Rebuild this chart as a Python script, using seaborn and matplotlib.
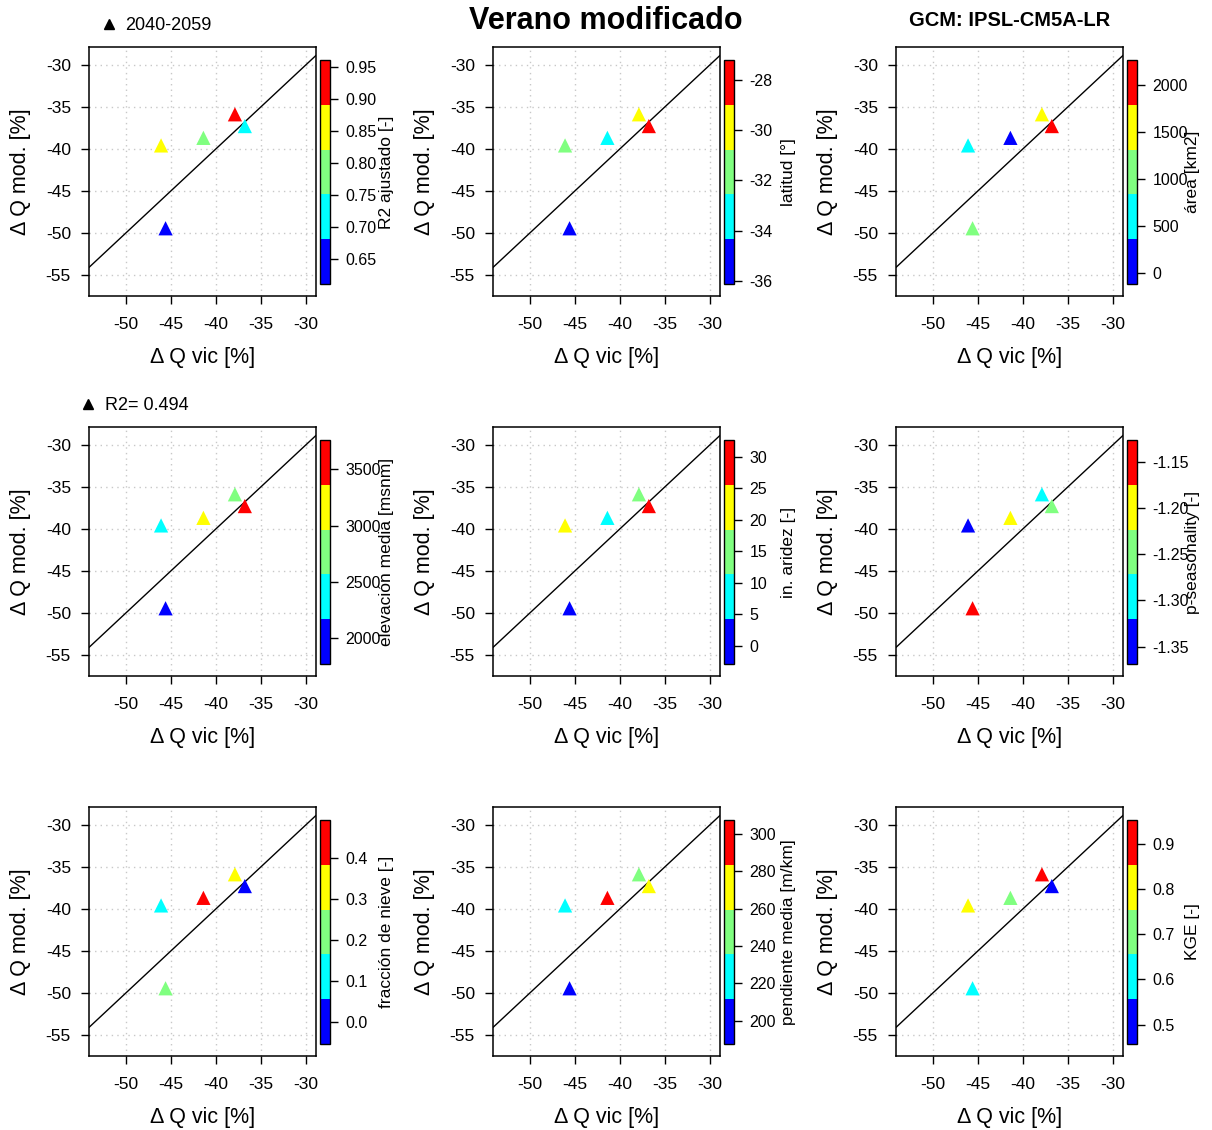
import numpy as np
import pandas as pd
import matplotlib
matplotlib.use("Agg")
import matplotlib.pyplot as plt
from matplotlib.colors import ListedColormap, Normalize
from matplotlib.lines import Line2D
import seaborn as sns

# cambio de caudal en verano (5 cuencas), igual en los 9 paneles
dq_vic = [-46.1, -45.6, -41.4, -37.9, -36.8]
dq_mod = [-39.6, -49.45, -38.7, -35.9, -37.3]

# variables para el color de cada cuenca
r2_ajustado = [0.86, 0.61, 0.79, 0.961, 0.72]
latitud = [-31.5, -36.1, -33.4, -29.8, -27.2]
area = [600, 1050, 150, 1550, 2266]
elevacion = [2400, 1800, 3150, 2750, 3700]
aridez = [22, 1, 8, 15, 31]
p_season = [-1.35, -1.14, -1.20, -1.29, -1.25]
nieve = [0.10, 0.22, 0.45, 0.33, 0.0]
pendiente = [225, 195, 300, 245, 270]
kge = [0.80, 0.60, 0.70, 0.92, 0.50]

variables = [r2_ajustado, latitud, area, elevacion, aridez,
             p_season, nieve, pendiente, kge]
etiquetas = ["R2 ajustado [-]", "latitud [°]", "área [km2]",
             "elevación media [msnm]", "in. aridez [-]", "p-seasonality [-]",
             "fracción de nieve [-]", "pendiente media [m/km]", "KGE [-]"]
# limites de la barra de colores
cb_lim = [(0.610, 0.9615), (-36.13, -27.2), (-120, 2266), (1769, 3760),
          (-2.92, 32.66), (-1.3687, -1.1265), (-0.0545, 0.493),
          (187.5, 307.5), (0.457, 0.953)]
cb_ticks = [[0.65, 0.70, 0.75, 0.80, 0.85, 0.90, 0.95],
            [-36, -34, -32, -30, -28],
            [0, 500, 1000, 1500, 2000],
            [2000, 2500, 3000, 3500],
            [0, 5, 10, 15, 20, 25, 30],
            [-1.35, -1.30, -1.25, -1.20, -1.15],
            [0.0, 0.1, 0.2, 0.3, 0.4],
            [200, 220, 240, 260, 280, 300],
            [0.5, 0.6, 0.7, 0.8, 0.9]]
cb_fmt = ["{:.2f}", "{:.0f}", "{:.0f}", "{:.0f}", "{:.0f}",
          "{:.2f}", "{:.1f}", "{:.0f}", "{:.1f}"]

colores = ListedColormap(["#0000FF", "#00FFFF", "#80FF80", "#FFFF00", "#FF0000"])

sns.set_style("white")
plt.rcParams["font.family"] = ["Liberation Sans", "DejaVu Sans"]
plt.rcParams["axes.unicode_minus"] = False
plt.rcParams["text.color"] = "black"
plt.rcParams["axes.labelcolor"] = "black"
plt.rcParams["xtick.color"] = "black"
plt.rcParams["ytick.color"] = "black"

W, H = 1212, 1130
fig = plt.figure(figsize=(W / 100, H / 100), dpi=100)


def px_axes(x, y, w, h):
    return fig.add_axes([x / W, 1 - (y + h) / H, w / W, h / H])


col_x = [89, 493, 896]
row_y = [47, 427, 807]
lab_x = [386, 788, 1192]

for i in range(9):
    r, c = divmod(i, 3)
    ax = px_axes(col_x[c], row_y[r], 227, 249)
    df = pd.DataFrame({"vic": dq_vic, "mod": dq_mod, "val": variables[i]})
    lo, hi = cb_lim[i]
    norm = Normalize(lo, hi)

    ax.axline((-50, -50), (-30, -30), color="black", lw=1, zorder=2)
    sns.scatterplot(data=df, x="vic", y="mod", hue="val", palette=colores,
                    hue_norm=norm, marker="^", s=105, linewidth=0,
                    legend=False, ax=ax, zorder=3)

    ax.set_xlim(-54.1, -28.9)
    ax.set_ylim(-57.5, -27.9)
    ax.set_xticks([-50, -45, -40, -35, -30])
    ax.set_yticks([-55, -50, -45, -40, -35, -30])
    ax.grid(True, linestyle=(0, (1, 3)), color="#C8C8C8", lw=1)
    ax.tick_params(axis="both", which="major", direction="out", length=6,
                   width=1, labelsize=12.5, color="black", labelcolor="black",
                   left=True, bottom=True)
    ax.tick_params(axis="y", pad=7)
    ax.tick_params(axis="x", pad=9)
    for sp in ax.spines.values():
        sp.set_color("black")
        sp.set_linewidth(1.1)
    ax.set_xlabel("Δ Q vic [%]", fontsize=15.5, color="black")
    ax.set_ylabel("Δ Q mod. [%]", fontsize=15.5, color="black")
    ax.xaxis.set_label_coords(0.5, -0.205)
    ax.yaxis.set_label_coords(-0.255, 0.5)

    # barra de colores
    cax = px_axes(col_x[c] + 231, row_y[r] + 13, 10, 224)
    sm = plt.cm.ScalarMappable(norm=norm, cmap=colores)
    cb = fig.colorbar(sm, cax=cax)
    cb.set_ticks(cb_ticks[i])
    cb.set_ticklabels([cb_fmt[i].format(t) for t in cb_ticks[i]])
    cb.ax.tick_params(length=6, width=1, labelsize=11.5, pad=5, color="black",
                      labelcolor="black")
    cb.outline.set_edgecolor("black")
    cb.outline.set_linewidth(1)
    fig.text(lab_x[c] / W, 1 - (row_y[r] + 125) / H, etiquetas[i],
             rotation=90, ha="center", va="center", fontsize=12.5)

# titulos y leyendas
fig.text(606 / W, 1 - 21 / H, "Verano modificado", ha="center", va="center",
         fontsize=22, fontweight="bold")
fig.text(1010 / W, 1 - 21 / H, "GCM: IPSL-CM5A-LR", ha="center", va="center",
         fontsize=14.5, fontweight="bold")

fig.add_artist(Line2D([109 / W], [1 - 24 / H], marker="^", color="black",
                      markersize=7, linestyle="none", transform=fig.transFigure))
fig.text(125 / W, 1 - 26 / H, "2040-2059", ha="left", va="center", fontsize=13)
fig.add_artist(Line2D([88 / W], [1 - 404 / H], marker="^", color="black",
                      markersize=7, linestyle="none", transform=fig.transFigure))
fig.text(105 / W, 1 - 406 / H, "R2= 0.494", ha="left", va="center", fontsize=13)

fig.savefig("out.png", dpi=100)
